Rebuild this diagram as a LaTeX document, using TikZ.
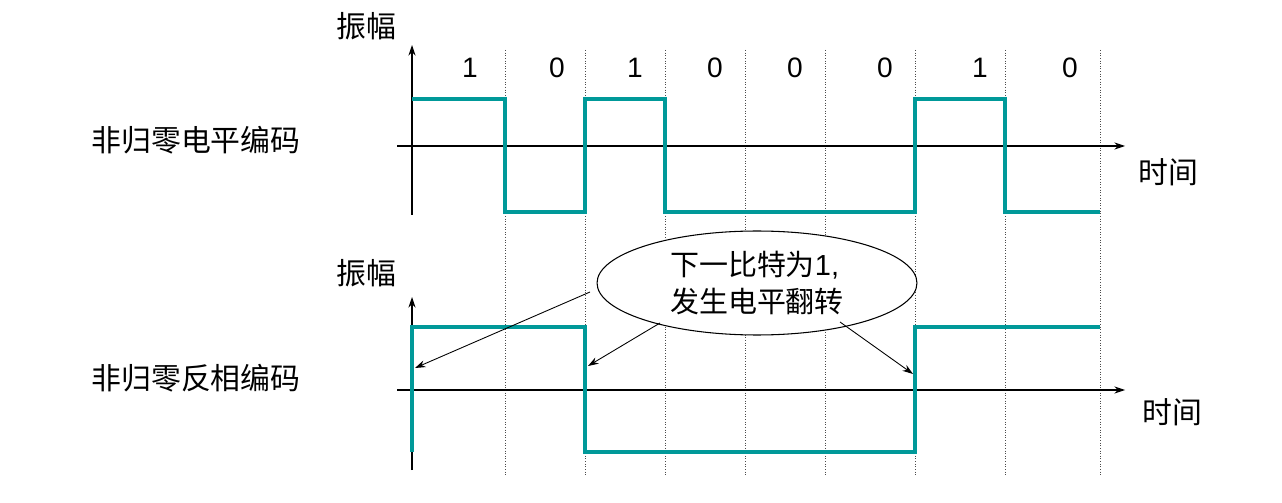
\documentclass[tikz,border=0pt]{standalone}
\usepackage{fontspec}
\setmainfont{Liberation Sans}
\newfontfamily\cjk{Noto Sans CJK SC}
\usetikzlibrary{arrows.meta,shapes.geometric,calc}
\definecolor{sig}{RGB}{0,153,153}
\begin{document}
\begin{tikzpicture}[x=0.02cm,y=-0.02cm,
  axis/.style={-{Stealth[length=6pt,width=4pt]},black,line width=0.6pt},
  grid/.style={densely dotted,black!70,line width=0.5pt},
  signal/.style={sig,line width=1.8pt},
  lbl/.style={font=\cjk\fontsize{17}{20}\selectfont},
  num/.style={font=\fontsize{16}{18}\selectfont},
  pointer/.style={-{Stealth[length=6pt,width=4pt]},black,line width=0.5pt}]
\useasboundingbox (0,0) rectangle (1282,503);
% grid
\foreach \x in {505,585,665,745,825,915,1005,1100} \draw[grid] (\x,50) -- (\x,475);
% top
\draw[axis] (412,215) -- (412,45);
\draw[axis] (397,146) -- (1125,146);
\foreach \x/\b in {470/1,557/0,635/1,715/0,795/0,885/0,980/1,1070/0}
  \node[num] (b\x) at (\x,68) {\b};
\draw[signal] (412,99) -- (505,99) -- (505,212) -- (585,212) -- (585,99) -- (665,99) -- (665,212) -- (915,212) -- (915,99) -- (1005,99) -- (1005,212) -- (1100,212);
\node[lbl] (a1) at (366,26) {振幅};
\node[lbl] (t1) at (1168,172) {时间};
\node[lbl] (n1) at (196,140) {非归零电平编码};
% bottom
\draw[axis] (412,470) -- (412,297);
\draw[axis] (397,390) -- (1125,390);
\draw[signal] (412,452) -- (412,327) -- (585,327) -- (585,452) -- (915,452) -- (915,327) -- (1100,327);
\node[lbl] (a2) at (366,273) {振幅};
\node[lbl] (t2) at (1172,412) {时间};
\node[lbl] (n2) at (196,378) {非归零反相编码};
% callout
\node[draw,ellipse,fill=white,line width=0.6pt,inner sep=0pt,
  minimum width=6.4cm,minimum height=2.08cm,align=left,font=\cjk\fontsize{16.5}{21}\selectfont] (e) at (757,283)
  {下一比特为\fontspec{Liberation Sans}1,\\发生电平翻转};
\coordinate (p1) at (415,368);
\coordinate (p2) at (588,366);
\coordinate (p3) at (913,374);
\draw[pointer] ($(e.center)+(-167,9)$) -- (p1);
\draw[pointer] ($(e.center)+(-97,40)$) -- (p2);
\draw[pointer] ($(e.center)+(83,39)$) -- (p3);
\end{tikzpicture}
\end{document}
